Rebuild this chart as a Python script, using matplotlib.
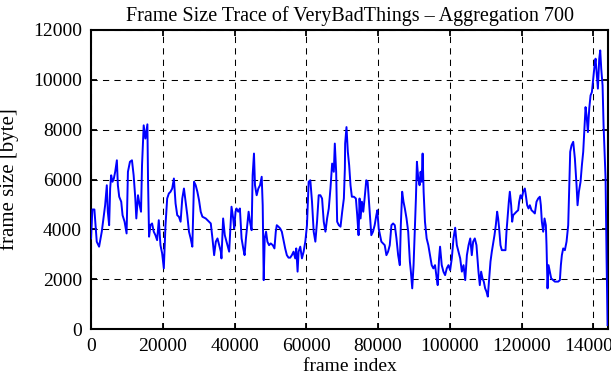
#!/usr/bin/env python3
"""Frame size trace of VeryBadThings, aggregation 700 (gnuplot look)."""

import matplotlib
matplotlib.use('Agg')
import matplotlib.pyplot as plt

# values
frame = [
    0, 374, 935, 1590, 2244, 2992, 3460, 3927, 4395, 4675, 5049, 5330, 5610,
    5984, 6358, 6732, 7200, 7480, 7854, 8415, 8789, 9350, 9911, 10285, 10846,
    11407, 11875, 12342, 12623, 13090, 13558, 13932, 14212, 14680, 15147,
    15708, 15895, 16176, 16550, 17017, 17485, 17952, 18420, 18887, 19355,
    19822, 20290, 20757, 21225, 21692, 22160, 22627, 23095, 23562, 24030,
    24497, 24965, 25432, 25900, 26367, 26835, 27302, 27770, 28237, 28705,
    29172, 29640, 30107, 30575, 31042, 31977, 32912, 33380, 33847, 34315,
    34782, 35250, 35717, 36185,
    36354, 36821, 37289, 37756, 38224, 38504, 38878, 39159, 39626, 39907,
    40281, 40561, 41029, 41496, 41964, 42431, 42805, 43179, 43553, 43927,
    44301, 44769, 45049, 45423, 45704, 46171, 46639, 47106, 47574, 47854,
    48135, 48415, 48789, 49163, 49631, 50098, 50659, 51127, 51501, 51781,
    52249, 52716, 53184, 53651, 54119, 54586, 55054, 55521, 55989, 56456,
    56924, 57204, 57578, 57859, 58326, 58794, 59261, 59729, 60196, 60664,
    61131, 61599, 62066, 62534, 63001, 63469, 63936, 64404, 64871, 65339,
    65806, 66274, 66741, 67209, 67676, 67957, 68331, 68611, 69079, 69546,
    70014, 70481, 70762,
    70837, 71211, 71585, 71959, 72333, 72707, 73268, 73829, 74203, 74577,
    74858, 75138, 75512, 75886, 76260, 76728, 77102, 77476, 77850, 78130,
    78598, 79065, 79533, 79813, 80187, 80561, 80935, 81403, 81870, 82338,
    82805, 83273, 83740, 84208, 84675, 85143, 85610, 86078, 86358, 86732,
    87106, 87480, 87948, 88415, 88883, 89163, 89537, 89911, 90285, 90566,
    90846, 91220, 91594, 91875, 92155, 92436, 92716, 93090, 93558, 94025,
    94493, 94960, 95428, 95895, 96363, 96643, 97017, 97298, 97765, 98233,
    98700, 99168, 99635, 100103, 100570, 101038, 101505, 101973, 102440,
    102908, 103375, 103843, 104310, 104778, 105245, 105713,
    106143, 106515, 106980, 107445, 107724, 108003, 108375, 108747, 109119,
    109491, 109863, 110235, 110607, 110979, 111351, 111723, 112095, 112467,
    112839, 113211, 113490, 113769, 114141, 114513, 115071, 115536, 115815,
    116094, 116466, 116745, 117117, 117396, 117675, 118140, 118605, 119070,
    119349, 119721, 120093, 120465, 120930, 121209, 121581, 121953, 122325,
    122790, 123255, 123720, 124185, 124650, 125115, 125394, 125673, 126045,
    126417, 126789, 126975, 127254, 127533, 127905, 128277, 128835, 129300,
    129765, 130230, 130695, 130974, 131253, 131625, 132090, 132555, 133020,
    133299, 133578, 133950, 134415, 134880, 135345, 135624, 135996, 136461,
    136833, 137205, 137577, 137856, 138135, 138507, 138879, 139251, 139623,
    139995, 140367, 140646, 140925, 141297, 141669, 141948, 142227, 142599,
    142878, 143157, 143436, 143715, 143994,
]
size = [
    3640, 4800, 4800, 3510, 3310, 3910, 4440, 4970, 5770, 4710, 4170, 5640,
    6170, 5910, 6040, 6310, 6770, 5770, 5310, 5110, 4570, 4310, 3840, 6310,
    6710, 6770, 6170, 5240, 4440, 5370, 4970, 4710, 6570, 8170, 7640, 8210,
    5910, 3710, 4170, 4240, 3910, 3770, 3570, 4370, 3370, 3040, 2440, 4170,
    5240, 5440, 5510, 5640, 6040, 5040, 4570, 4510, 4310, 5240, 5640, 5110,
    4570, 3910, 3640, 3310, 5910, 5770, 5510, 5170, 4710, 4510, 4440, 4310,
    4240, 3640, 2970, 3510, 3640, 3370, 3110,
    2840, 4440, 3770, 3510, 3240, 3110, 4170, 4910, 4440, 4040, 4710, 4840,
    4710, 4840, 3640, 3240, 2970, 3640, 4170, 4710, 4310, 3970, 6170, 7040,
    5770, 5370, 5640, 5770, 6110, 4970, 1970, 3640, 3910, 3510, 3370, 3440,
    3370, 3240, 3910, 4170, 4110, 4040, 3910, 3570, 3240, 2970, 2870, 2870,
    2970, 3110, 2840, 3240, 2310, 3110, 3310, 2840, 3110, 3510, 4170, 5910,
    5970, 5110, 3910, 3510, 4310, 5370, 5370, 5240, 4310, 3910, 4440, 4840,
    5640, 6640, 6310, 7440, 6310, 4310, 4170, 4110, 4710, 5240, 6440,
    7440, 8100, 7110, 6570, 5770, 5310, 5310, 5240, 4570, 3770, 5240, 4440,
    5110, 4710, 5240, 5970, 5910, 5110, 4310, 3770, 3910, 4170, 4570, 4770,
    4040, 3770, 3510, 3440, 3370, 2970, 3110, 3370, 4170, 4240, 4170, 3640,
    2970, 2570, 4170, 5510, 5110, 4840, 4440, 3910, 2710, 2310, 1640, 2570,
    4040, 5240, 6710, 6040, 5770, 6310, 5910, 7040, 5510, 4310, 3640, 3370,
    2970, 2570, 2440, 2570, 2040, 1770, 2840, 3310, 2570, 2310, 2170, 2440,
    2570, 2370, 2840, 3640, 4070, 3370, 3110, 2840, 2310, 2570, 1970, 2970,
    3370, 3640,
    2970, 3510, 3640, 3370, 2840, 2310, 1770, 2310, 2040, 1910, 1640, 1510,
    1310, 2040, 2710, 3110, 3440, 3770, 4170, 4710, 4440, 4040, 3370, 3170,
    3170, 3170, 3910, 4440, 5110, 5510, 4970, 4310, 4570, 4640, 4710, 4770,
    5110, 5370, 5240, 5510, 5640, 5370, 4970, 4840, 4970, 4770, 4710, 4640,
    5110, 5240, 5310, 4970, 4310, 3910, 4440, 4170, 3370, 1640, 2570, 2310,
    2040, 1970, 1910, 1910, 1910, 1970, 2570, 2970, 3240, 3170, 3510, 4170,
    5640, 7110, 7370, 7510, 6840, 5770, 4970, 5510, 5910, 6570, 7110, 8170,
    8900, 8570, 7900, 8840, 9370, 9500, 10040, 10570, 10840, 10300, 9640,
    10840, 11170, 10440, 9770, 8170, 7110, 6040, 2840, 170,
]

x_ticks = [0, 20000, 40000, 60000, 80000, 100000, 120000, 140000]
y_ticks = [0, 2000, 4000, 6000, 8000, 10000, 12000]

plt.rcParams.update({
    'font.family': 'Liberation Serif',
    'font.size': 14,
})

fig = plt.figure(figsize=(6.11, 3.80), dpi=100)
ax = fig.add_axes([0.149, 0.1334, 0.8466, 0.7884])

ax.plot(frame, size, color='#0000ff', linewidth=1.4, zorder=3)

ax.set_xlim(0, 144200)
ax.set_ylim(0, 12000)
ax.set_xticks(x_ticks)
ax.set_yticks(y_ticks)
ax.grid(True, color='black', linestyle=(0, (6, 5)), linewidth=0.75)
ax.set_axisbelow(True)

for s in ax.spines.values():
    s.set_linewidth(1.5)
ax.tick_params(direction='in', length=4.5, width=1.3, top=True, right=True,
               pad=6.5, colors='black', labelsize=14)

ax.set_xlabel('frame index', labelpad=2)
ax.set_ylabel('frame size [byte]', fontsize=15, labelpad=10)
ax.set_title('Frame Size Trace of VeryBadThings \u2013 Aggregation 700',
             fontsize=14.5, pad=6)

fig.savefig('out.png', dpi=100)
